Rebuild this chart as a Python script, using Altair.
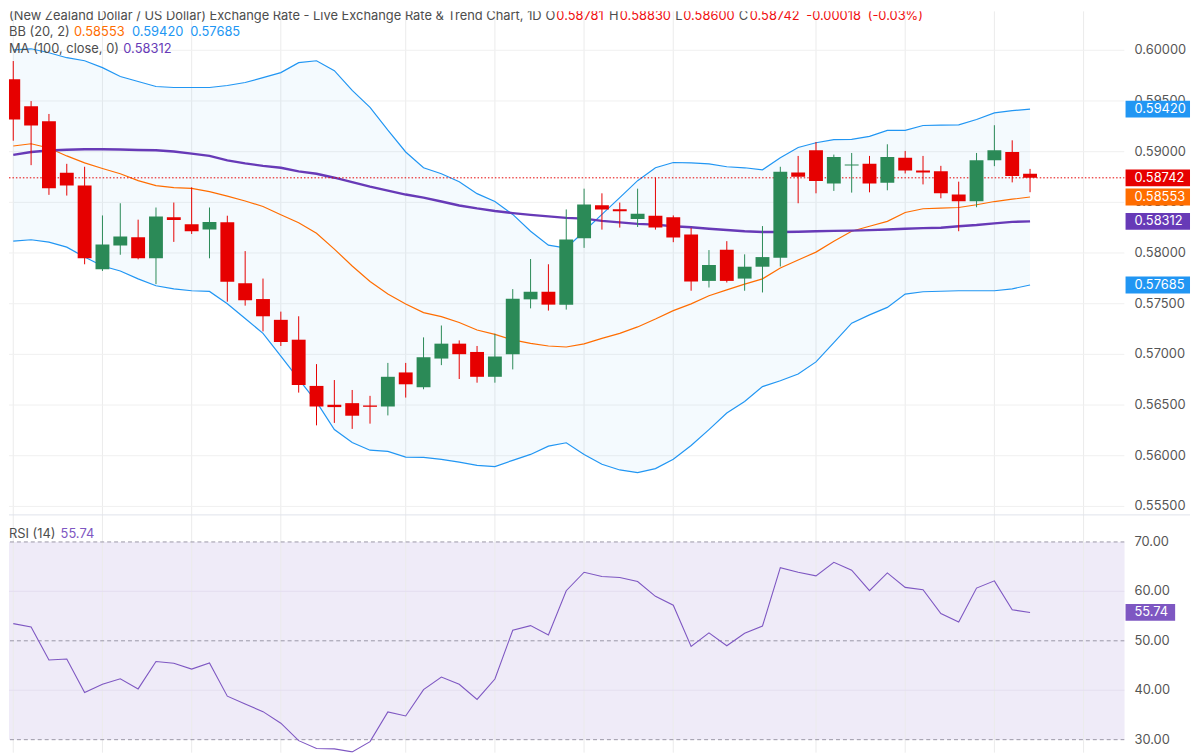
import altair as alt
import pandas as pd

# ---------------- data ----------------
days = list(range(58))
opens = [0.59714, 0.59447, 0.59300, 0.58792, 0.58665, 0.57840, 0.58075, 0.58156, 0.57948, 0.58352,
         0.58283, 0.58231, 0.58303, 0.57703, 0.57546, 0.57341, 0.57145, 0.56689, 0.56503, 0.56519,
         0.56496, 0.56486, 0.56822, 0.56676, 0.56959, 0.57106, 0.57024, 0.56779, 0.57002, 0.57543,
         0.57618, 0.57489, 0.58146, 0.58472, 0.58433, 0.58335, 0.58368, 0.58352, 0.58182, 0.57725,
         0.58032, 0.57748, 0.57865, 0.57953, 0.58795, 0.59014, 0.58687, 0.58863, 0.58880, 0.58694,
         0.58939, 0.58814, 0.58808, 0.58577, 0.58511, 0.58916, 0.58997, 0.58781]
highs = [0.59894, 0.59499, 0.59372, 0.58880, 0.58851, 0.58371, 0.58491, 0.58329, 0.58449, 0.58498,
         0.58648, 0.58449, 0.58368, 0.58019, 0.57748, 0.57422, 0.57376, 0.56904, 0.56747, 0.56649,
         0.56591, 0.56916, 0.56916, 0.57168, 0.57285, 0.57138, 0.57083, 0.57204, 0.57644, 0.57941,
         0.57889, 0.58430, 0.58635, 0.58589, 0.58498, 0.58635, 0.58743, 0.58371, 0.58247, 0.58029,
         0.58117, 0.57987, 0.58266, 0.58851, 0.58958, 0.59095, 0.58971, 0.58987, 0.58958, 0.59073,
         0.59007, 0.58958, 0.58860, 0.58704, 0.58987, 0.59261, 0.59112, 0.58830]
lows = [0.59108, 0.58867, 0.58574, 0.58567, 0.57889, 0.57823, 0.57983, 0.57938, 0.57693, 0.58110,
        0.58188, 0.57948, 0.57520, 0.57481, 0.57227, 0.57083, 0.56623, 0.56300, 0.56324, 0.56265,
        0.56317, 0.56398, 0.56574, 0.56656, 0.56894, 0.56757, 0.56721, 0.56721, 0.56852, 0.57454,
        0.57432, 0.57442, 0.58051, 0.58231, 0.58251, 0.58257, 0.58231, 0.58107, 0.57628, 0.57660,
        0.57709, 0.57628, 0.57611, 0.57867, 0.58491, 0.58589, 0.58613, 0.58596, 0.58599, 0.58619,
        0.58785, 0.58677, 0.58540, 0.58215, 0.58452, 0.58857, 0.58697, 0.58600]
closes = [0.59317, 0.59258, 0.58638, 0.58665, 0.57948, 0.58085, 0.58163, 0.57948, 0.58361, 0.58325,
          0.58215, 0.58306, 0.57716, 0.57533, 0.57376, 0.57122, 0.56698, 0.56486, 0.56480, 0.56395,
          0.56483, 0.56779, 0.56705, 0.56972, 0.57106, 0.57002, 0.56779, 0.56979, 0.57549, 0.57618,
          0.57491, 0.58134, 0.58479, 0.58430, 0.58413, 0.58388, 0.58251, 0.58153, 0.57719, 0.57882,
          0.57725, 0.57865, 0.57960, 0.58802, 0.58753, 0.58711, 0.58948, 0.58873, 0.58687, 0.58948,
          0.58814, 0.58795, 0.58589, 0.58511, 0.58916, 0.59014, 0.58760, 0.58742]
bb_upper = [0.60005, 0.60015, 0.59976, 0.59927, 0.59897, 0.59829, 0.59741, 0.59692, 0.59643, 0.59633,
            0.59633, 0.59633, 0.59653, 0.59682, 0.59731, 0.59780, 0.59878, 0.59897, 0.59799, 0.59604,
            0.59437, 0.59212, 0.58997, 0.58841, 0.58782, 0.58704, 0.58586, 0.58508, 0.58381, 0.58215,
            0.58078, 0.58048, 0.58215, 0.58381, 0.58547, 0.58714, 0.58841, 0.58893, 0.58890, 0.58880,
            0.58851, 0.58841, 0.58821, 0.58939, 0.59041, 0.59088, 0.59118, 0.59122, 0.59151, 0.59210,
            0.59210, 0.59258, 0.59261, 0.59264, 0.59317, 0.59382, 0.59405, 0.59420]
bb_mid = [0.59056, 0.59078, 0.59036, 0.58958, 0.58890, 0.58834, 0.58782, 0.58714, 0.58665, 0.58645,
          0.58638, 0.58606, 0.58562, 0.58513, 0.58459, 0.58378, 0.58298, 0.58195, 0.58039, 0.57872,
          0.57719, 0.57595, 0.57498, 0.57412, 0.57373, 0.57315, 0.57241, 0.57197, 0.57143, 0.57109,
          0.57083, 0.57073, 0.57104, 0.57158, 0.57207, 0.57271, 0.57349, 0.57432, 0.57498, 0.57579,
          0.57637, 0.57693, 0.57745, 0.57853, 0.57931, 0.58009, 0.58117, 0.58215, 0.58264, 0.58312,
          0.58400, 0.58437, 0.58443, 0.58449, 0.58476, 0.58508, 0.58531, 0.58553]
bb_lower = [0.58117, 0.58131, 0.58107, 0.58058, 0.57960, 0.57872, 0.57823, 0.57745, 0.57677, 0.57647,
            0.57628, 0.57621, 0.57500, 0.57354, 0.57207, 0.56982, 0.56757, 0.56532, 0.56258, 0.56131,
            0.56055, 0.56043, 0.55987, 0.55984, 0.55965, 0.55938, 0.55906, 0.55893, 0.55955, 0.56013,
            0.56095, 0.56128, 0.56013, 0.55916, 0.55860, 0.55834, 0.55873, 0.55965, 0.56101, 0.56258,
            0.56421, 0.56535, 0.56682, 0.56740, 0.56806, 0.56926, 0.57116, 0.57308, 0.57390, 0.57464,
            0.57595, 0.57618, 0.57623, 0.57628, 0.57628, 0.57628, 0.57647, 0.57685]
ma100 = [0.58968, 0.58997, 0.59012, 0.59019, 0.59024, 0.59024, 0.59022, 0.59017, 0.59014, 0.59002,
         0.58981, 0.58958, 0.58914, 0.58885, 0.58860, 0.58841, 0.58806, 0.58782, 0.58743, 0.58699,
         0.58655, 0.58616, 0.58577, 0.58547, 0.58508, 0.58469, 0.58440, 0.58415, 0.58394, 0.58376,
         0.58361, 0.58347, 0.58339, 0.58317, 0.58303, 0.58288, 0.58280, 0.58264, 0.58254, 0.58239,
         0.58227, 0.58215, 0.58207, 0.58207, 0.58210, 0.58215, 0.58219, 0.58221, 0.58226, 0.58232,
         0.58239, 0.58246, 0.58249, 0.58264, 0.58276, 0.58293, 0.58307, 0.58312]
rsi14 = [53.47, 52.80, 46.13, 46.33, 39.53, 41.20, 42.33, 40.27, 45.80, 45.47,
         44.27, 45.53, 38.80, 37.20, 35.67, 33.33, 29.80, 28.20, 28.13, 27.53,
         29.60, 35.60, 34.80, 40.13, 42.67, 41.20, 38.13, 42.27, 52.13, 53.07,
         51.20, 60.13, 63.87, 63.00, 62.80, 62.00, 59.00, 57.20, 48.87, 51.60,
         49.00, 51.53, 53.00, 64.80, 63.87, 63.13, 65.87, 64.27, 60.13, 63.73,
         60.80, 60.33, 55.53, 53.80, 60.67, 62.13, 56.27, 55.74]
week_starts = [0, 5, 10, 15, 22, 27, 32, 37, 45, 50, 55, 60]
price_ticks = [0.555, 0.560, 0.565, 0.570, 0.575, 0.580, 0.585, 0.590, 0.595, 0.600]
price_labels = ["0.55500", "0.56000", "0.56500", "0.57000", "0.57500",
                "0.58000", "0.58500", "0.59000", "0.59500", "0.60000"]
rsi_ticks = [30, 40, 50, 60, 70]
rsi_labels = ["30.00", "40.00", "50.00", "60.00", "70.00"]
rsi_dashed = [70, 50, 30]
rsi_grid = [40, 60]
change_abs = -0.00018
change_pct = -0.03

# ---------------- frames ----------------
df = pd.DataFrame({"day": days, "open": opens, "high": highs, "low": lows, "close": closes,
                   "upper": bb_upper, "mid": bb_mid, "lower": bb_lower, "ma": ma100, "rsi": rsi14})
df["dir"] = ["up" if c >= o else "down" for o, c in zip(opens, closes)]
grid_df = pd.DataFrame({"day": week_starts})
pt_df = pd.DataFrame({"v": price_ticks, "label": price_labels})
rt_df = pd.DataFrame({"v": rsi_ticks, "label": rsi_labels})
rd_df = pd.DataFrame({"v": rsi_dashed})
rg_df = pd.DataFrame({"v": rsi_grid})
zone_df = pd.DataFrame({"top": [70], "bottom": [30]})
last_df = pd.DataFrame({"close": [closes[-1]], "rsi": [rsi14[-1]]})
tag_df = pd.DataFrame({"value": [bb_upper[-1], closes[-1], bb_mid[-1], ma100[-1], bb_lower[-1]],
                       "kind": ["upper", "close", "mid", "ma", "lower"]})

# ---------------- style ----------------
FONT = "Inter"
GREEN = "#2b8a57"
RED = "#e60000"
TXTRED = "#f01010"
BLUE = "#2196f3"
ORANGE = "#ff6d00"
PURPLE = "#673ab7"
RSIC = "#7e57c2"
GRAY = "#4d4d4d"
W, H = 1125, 748

X = alt.Scale(domain=[0.0386, 62.02], nice=False, zero=False)
P = alt.Scale(domain=[0.530689, 0.603864], nice=False, zero=False)
R = alt.Scale(domain=[27.33, 177.38], nice=False, zero=False)


def xq(f):
    return alt.X(f, type="quantitative", scale=X, axis=None)


def yp(f):
    return alt.Y(f, type="quantitative", scale=P, axis=None)


def yr(f):
    return alt.Y(f, type="quantitative", scale=R, axis=None)


base = alt.Chart(df)
layers = []

# rsi zone background
layers.append(alt.Chart(zone_df).mark_rect(color=RSIC, opacity=0.12).encode(
    x=alt.value(0), x2=alt.value(W), y=yr("top"), y2=alt.Y2("bottom")))
# grids
layers.append(alt.Chart(grid_df).mark_rule(color="#ebebeb", strokeWidth=1, clip=True).encode(x=xq("day")))
layers.append(alt.Chart(pt_df).mark_rule(color="#f0f0f0", strokeWidth=1, clip=True).encode(y=yp("v")))
layers.append(alt.Chart(rg_df).mark_rule(color="#e4dff0", strokeWidth=1, clip=True).encode(y=yr("v")))
layers.append(alt.Chart(rd_df).mark_rule(color="#9a97a6", strokeWidth=1, strokeDash=[4, 3], clip=True).encode(y=yr("v")))

# bollinger fill + lines
layers.append(base.mark_area(color=BLUE, opacity=0.05, clip=True).encode(
    x=xq("day"), y=yp("upper"), y2=alt.Y2("lower")))
layers.append(base.mark_line(color=BLUE, strokeWidth=1.2, clip=True).encode(x=xq("day"), y=yp("upper")))
layers.append(base.mark_line(color=BLUE, strokeWidth=1.2, clip=True).encode(x=xq("day"), y=yp("lower")))
layers.append(base.mark_line(color=ORANGE, strokeWidth=1.2, clip=True).encode(x=xq("day"), y=yp("mid")))
layers.append(base.mark_line(color=PURPLE, strokeWidth=2.4, clip=True).encode(x=xq("day"), y=yp("ma")))

# last close dotted line
layers.append(alt.Chart(last_df).mark_rule(color=RED, strokeWidth=1, strokeDash=[1.5, 2], clip=True).encode(
    y=yp("close")))

# candles
ccol = alt.Color("dir:N", scale=alt.Scale(domain=["up", "down"], range=[GREEN, RED]), legend=None)
layers.append(base.mark_rule(strokeWidth=1, clip=True).encode(
    x=xq("day"), y=yp("low"), y2=alt.Y2("high"), color=ccol))
layers.append(base.mark_bar(width=14, clip=True).encode(
    x=xq("day"), y=yp("open"), y2=alt.Y2("close"), color=ccol))

# rsi line
layers.append(base.mark_line(color=RSIC, strokeWidth=1.1, clip=True).encode(x=xq("day"), y=yr("rsi")))

# separator
layers.append(alt.Chart(last_df).mark_rule(color="#e0e3eb", strokeWidth=1).encode(
    x=alt.value(0), x2=alt.value(1191), y=alt.value(508)))

# right axis labels
layers.append(alt.Chart(pt_df).mark_text(align="left", baseline="middle", color="#555555",
                                         font=FONT, fontSize=13).encode(
    x=alt.value(1135), y=yp("v"), text="label:N"))
layers.append(alt.Chart(rt_df).mark_text(align="left", baseline="middle", color="#555555",
                                         font=FONT, fontSize=13).encode(
    x=alt.value(1135), y=yr("v"), text="label:N"))

# value tags
tcol = alt.Color("kind:N", scale=alt.Scale(domain=["upper", "close", "mid", "ma", "lower"],
                                           range=[BLUE, RED, ORANGE, PURPLE, BLUE]), legend=None)
layers.append(alt.Chart(tag_df).mark_tick(thickness=17, opacity=1).encode(
    x=alt.value(1158.5), y=yp("value"), size=alt.value(65), color=tcol))
layers.append(alt.Chart(tag_df).mark_text(align="left", baseline="middle", color="white",
                                          font=FONT, fontSize=13).encode(
    x=alt.value(1135), y=yp("value"), text=alt.Text("value:Q", format=".5f")))
layers.append(alt.Chart(last_df).mark_tick(thickness=17, opacity=1, color=RSIC).encode(
    x=alt.value(1151), y=yr("rsi"), size=alt.value(50)))
layers.append(alt.Chart(last_df).mark_text(align="left", baseline="middle", color="white",
                                           font=FONT, fontSize=13).encode(
    x=alt.value(1135), y=yr("rsi"), text=alt.Text("rsi:Q", format=".2f")))


# legend texts
def txt(s, x, y, color, size=13):
    return alt.Chart(last_df).mark_text(text=s, align="left", baseline="middle", color=color,
                                        font=FONT, fontSize=size, clip=True).encode(
        x=alt.value(x), y=alt.value(y))


y1, y2, y3 = 5, 21, 38.7
layers += [
    txt("(New Zealand Dollar / US Dollar) Exchange Rate - Live Exchange Rate & Trend Chart, 1D", 0, y1, GRAY),
    txt("O", 541, y1, GRAY), txt(f"{opens[-1]:.5f}", 552, y1, TXTRED),
    txt("H", 605, y1, GRAY), txt(f"{highs[-1]:.5f}", 616, y1, TXTRED),
    txt("L", 672, y1, GRAY), txt(f"{lows[-1]:.5f}", 680, y1, TXTRED),
    txt("C", 736, y1, GRAY), txt(f"{closes[-1]:.5f}", 747, y1, TXTRED),
    txt(f"{change_abs:.5f}", 804, y1, TXTRED), txt(f"({change_pct:.2f}%)", 866, y1, TXTRED),
    txt("BB (20, 2)", 0, y2, GRAY),
    txt(f"{bb_mid[-1]:.5f}", 65.5, y2, ORANGE),
    txt(f"{bb_upper[-1]:.5f}", 124, y2, BLUE),
    txt(f"{bb_lower[-1]:.5f}", 182.7, y2, BLUE),
    txt("MA (100, close, 0)", 0, y3, GRAY),
    txt(f"{ma100[-1]:.5f}", 115.3, y3, PURPLE),
    txt("RSI (14)", 0, 527, GRAY),
    txt(f"{rsi14[-1]:.2f}", 52, 527, RSIC),
]

chart = alt.layer(*layers).resolve_scale(y="independent", color="independent").properties(
    width=W, height=H, padding=0, background="white"
).configure_view(stroke=None)

chart.save("out.html", embed_options={"renderer": "svg", "actions": False})
